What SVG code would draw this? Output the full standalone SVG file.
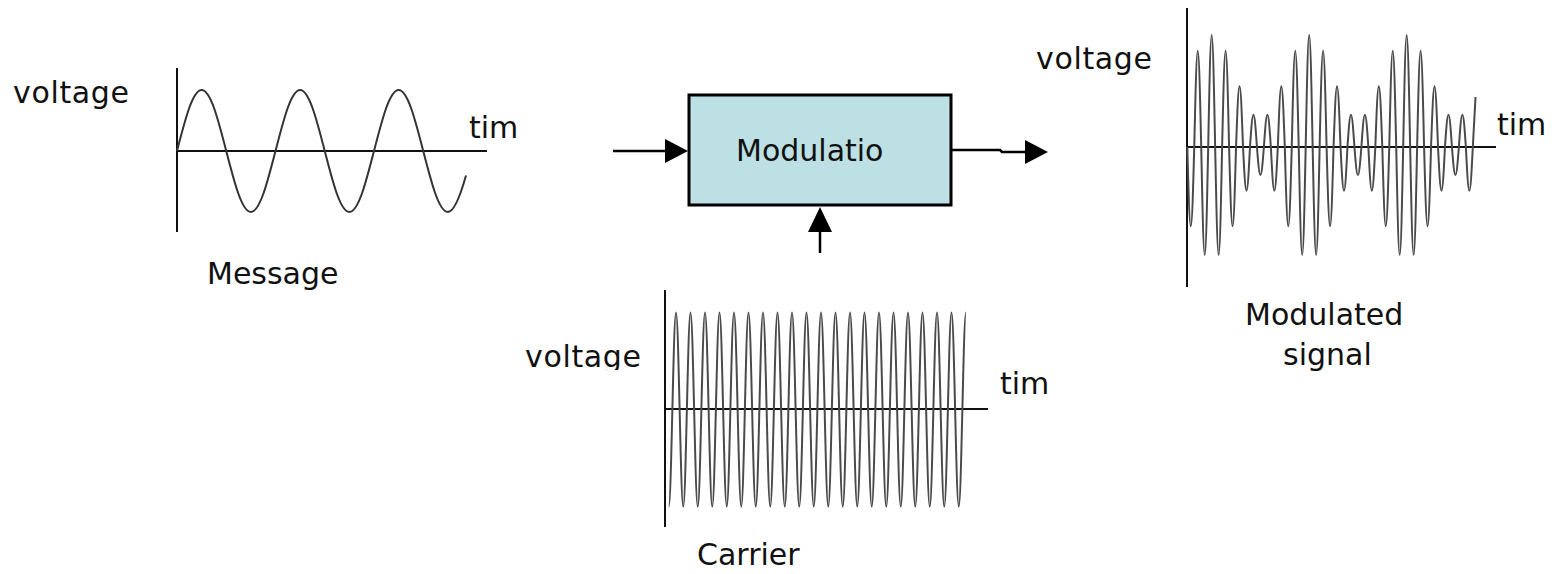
<svg xmlns="http://www.w3.org/2000/svg" width="1566" height="574" viewBox="0 0 1566 574">
<style>
text{font-family:"DejaVu Sans","Liberation Sans",sans-serif;font-size:30px;fill:#111}
.axis{stroke:#111;stroke-width:2;fill:none}
.wave{stroke:#333;stroke-width:2;fill:none}
.hf{stroke:#4a4a4a;stroke-width:2;fill:none}
.conn{stroke:#000;stroke-width:2.5;fill:none}
.head{fill:#000}
</style>
<defs>
<clipPath id="vclip"><rect x="500" y="330" width="160" height="40"/></clipPath>
</defs>
<rect width="1566" height="574" fill="#fff"/>

<g id="message">
<line class="axis" x1="177" y1="68" x2="177" y2="232"/>
<line class="axis" x1="177" y1="151" x2="487" y2="151"/>
<path class="wave" d="M177,151 C185.23,118.97 192.68,90 201.63,90 C210.58,90 218.02,118.97 226.25,151 C234.48,183.03 241.93,212 250.88,212 C259.83,212 267.27,183.03 275.5,151 C283.73,118.97 291.18,90 300.13,90 C309.08,90 316.52,118.97 324.75,151 C332.98,183.03 340.43,212 349.38,212 C358.33,212 365.77,183.03 374,151 C382.23,118.97 389.68,90 398.63,90 C407.58,90 415.02,118.97 423.25,151 C431.48,183.03 438.93,212 447.88,212 C453.92,212 459.96,197.1 466,175.6"/>
<text x="13" y="103" textLength="116">voltage</text>
<text x="469" y="138">tim</text>
<text x="207" y="284">Message</text>
</g>

<g id="modulator">
<rect x="689" y="95" width="262" height="110" fill="#bce0e3" stroke="#000" stroke-width="3"/>
<text x="736" y="161">Modulatio</text>
</g>

<g id="carrier">
<line class="axis" x1="665" y1="290" x2="665" y2="527"/>
<line class="axis" x1="665" y1="409" x2="988" y2="409"/>
<path class="hf" d="M668.75,506.5
c1.317,0 2.413,-46.07 3.625,-97 c1.212,-50.93 2.308,-97 3.625,-97 c1.317,0 2.413,46.07 3.625,97 c1.212,50.93 2.308,97 3.625,97
c1.317,0 2.413,-46.07 3.625,-97 c1.212,-50.93 2.308,-97 3.625,-97 c1.317,0 2.413,46.07 3.625,97 c1.212,50.93 2.308,97 3.625,97
c1.317,0 2.413,-46.07 3.625,-97 c1.212,-50.93 2.308,-97 3.625,-97 c1.317,0 2.413,46.07 3.625,97 c1.212,50.93 2.308,97 3.625,97
c1.317,0 2.413,-46.07 3.625,-97 c1.212,-50.93 2.308,-97 3.625,-97 c1.317,0 2.413,46.07 3.625,97 c1.212,50.93 2.308,97 3.625,97
c1.317,0 2.413,-46.07 3.625,-97 c1.212,-50.93 2.308,-97 3.625,-97 c1.317,0 2.413,46.07 3.625,97 c1.212,50.93 2.308,97 3.625,97
c1.317,0 2.413,-46.07 3.625,-97 c1.212,-50.93 2.308,-97 3.625,-97 c1.317,0 2.413,46.07 3.625,97 c1.212,50.93 2.308,97 3.625,97
c1.317,0 2.413,-46.07 3.625,-97 c1.212,-50.93 2.308,-97 3.625,-97 c1.317,0 2.413,46.07 3.625,97 c1.212,50.93 2.308,97 3.625,97
c1.317,0 2.413,-46.07 3.625,-97 c1.212,-50.93 2.308,-97 3.625,-97 c1.317,0 2.413,46.07 3.625,97 c1.212,50.93 2.308,97 3.625,97
c1.317,0 2.413,-46.07 3.625,-97 c1.212,-50.93 2.308,-97 3.625,-97 c1.317,0 2.413,46.07 3.625,97 c1.212,50.93 2.308,97 3.625,97
c1.317,0 2.413,-46.07 3.625,-97 c1.212,-50.93 2.308,-97 3.625,-97 c1.317,0 2.413,46.07 3.625,97 c1.212,50.93 2.308,97 3.625,97
c1.317,0 2.413,-46.07 3.625,-97 c1.212,-50.93 2.308,-97 3.625,-97 c1.317,0 2.413,46.07 3.625,97 c1.212,50.93 2.308,97 3.625,97
c1.317,0 2.413,-46.07 3.625,-97 c1.212,-50.93 2.308,-97 3.625,-97 c1.317,0 2.413,46.07 3.625,97 c1.212,50.93 2.308,97 3.625,97
c1.317,0 2.413,-46.07 3.625,-97 c1.212,-50.93 2.308,-97 3.625,-97 c1.317,0 2.413,46.07 3.625,97 c1.212,50.93 2.308,97 3.625,97
c1.317,0 2.413,-46.07 3.625,-97 c1.212,-50.93 2.308,-97 3.625,-97 c1.317,0 2.413,46.07 3.625,97 c1.212,50.93 2.308,97 3.625,97
c1.317,0 2.413,-46.07 3.625,-97 c1.212,-50.93 2.308,-97 3.625,-97 c1.317,0 2.413,46.07 3.625,97 c1.212,50.93 2.308,97 3.625,97
c1.317,0 2.413,-46.07 3.625,-97 c1.212,-50.93 2.308,-97 3.625,-97 c1.317,0 2.413,46.07 3.625,97 c1.212,50.93 2.308,97 3.625,97
c1.317,0 2.413,-46.07 3.625,-97 c1.212,-50.93 2.308,-97 3.625,-97 c1.317,0 2.413,46.07 3.625,97 c1.212,50.93 2.308,97 3.625,97
c1.317,0 2.413,-46.07 3.625,-97 c1.212,-50.93 2.308,-97 3.625,-97 c1.317,0 2.413,46.07 3.625,97 c1.212,50.93 2.308,97 3.625,97
c1.317,0 2.413,-46.07 3.625,-97 c1.212,-50.93 2.308,-97 3.625,-97 c1.317,0 2.413,46.07 3.625,97 c1.212,50.93 2.308,97 3.625,97
c1.317,0 2.413,-46.07 3.625,-97 c1.212,-50.93 2.308,-97 3.625,-97 c1.317,0 2.413,46.07 3.625,97 c1.212,50.93 2.308,97 3.625,97
c1.317,0 2.413,-46.07 3.625,-97 c1.212,-50.93 2.308,-97 3.625,-97"/>
<text x="525" y="367" textLength="116" clip-path="url(#vclip)">voltage</text>
<text x="1000" y="394">tim</text>
<text x="697" y="565">Carrier</text>
</g>

<g id="modulated">
<line class="axis" x1="1187" y1="8" x2="1187" y2="287"/>
<line class="axis" x1="1187" y1="147" x2="1496" y2="147"/>
<path class="hf" d="M1187.3,147 c1.164,41.67 2.217,79.35 3.482,79.35 c1.265,0 2.318,-37.68 3.482,-79.35 c1.164,-50.51 2.217,-96.19 3.482,-96.19 c1.265,0 2.318,45.68 3.482,96.19 c1.164,56.63 2.217,107.84 3.482,107.84 c1.265,0 2.318,-51.21 3.482,-107.84
c1.164,-58.81 2.217,-112 3.482,-112 c1.265,0 2.318,53.19 3.482,112 c1.164,56.63 2.217,107.84 3.482,107.84 c1.265,0 2.318,-51.21 3.482,-107.84 c1.164,-50.51 2.217,-96.19 3.482,-96.19 c1.265,0 2.318,45.68 3.482,96.19 c1.164,41.67 2.217,79.35 3.482,79.35 c1.265,0 2.318,-37.68 3.482,-79.35 c1.164,-31.85 2.217,-60.65 3.482,-60.65 c1.265,0 2.318,28.8 3.482,60.65 c1.164,23 2.217,43.81 3.482,43.81 c1.265,0 2.318,-20.81 3.482,-43.81 c1.164,-16.89 2.217,-32.16 3.482,-32.16 c1.265,0 2.318,15.27 3.482,32.16 c1.164,14.7 2.217,28 3.482,28 c1.265,0 2.318,-13.3 3.482,-28 c1.164,-16.89 2.217,-32.16 3.482,-32.16 c1.265,0 2.318,15.27 3.482,32.16 c1.164,23 2.217,43.81 3.482,43.81 c1.265,0 2.318,-20.81 3.482,-43.81 c1.164,-31.85 2.217,-60.65 3.482,-60.65 c1.265,0 2.318,28.8 3.482,60.65 c1.164,41.67 2.217,79.35 3.482,79.35 c1.265,0 2.318,-37.68 3.482,-79.35 c1.164,-50.51 2.217,-96.19 3.482,-96.19 c1.265,0 2.318,45.68 3.482,96.19 c1.164,56.63 2.217,107.84 3.482,107.84 c1.265,0 2.318,-51.21 3.482,-107.84
c1.164,-58.81 2.217,-112 3.482,-112 c1.265,0 2.318,53.19 3.482,112 c1.164,56.63 2.217,107.84 3.482,107.84 c1.265,0 2.318,-51.21 3.482,-107.84 c1.164,-50.51 2.217,-96.19 3.482,-96.19 c1.265,0 2.318,45.68 3.482,96.19 c1.164,41.67 2.217,79.35 3.482,79.35 c1.265,0 2.318,-37.68 3.482,-79.35 c1.164,-31.85 2.217,-60.65 3.482,-60.65 c1.265,0 2.318,28.8 3.482,60.65 c1.164,23 2.217,43.81 3.482,43.81 c1.265,0 2.318,-20.81 3.482,-43.81 c1.164,-16.89 2.217,-32.16 3.482,-32.16 c1.265,0 2.318,15.27 3.482,32.16 c1.164,14.7 2.217,28 3.482,28 c1.265,0 2.318,-13.3 3.482,-28 c1.164,-16.89 2.217,-32.16 3.482,-32.16 c1.265,0 2.318,15.27 3.482,32.16 c1.164,23 2.217,43.81 3.482,43.81 c1.265,0 2.318,-20.81 3.482,-43.81 c1.164,-31.85 2.217,-60.65 3.482,-60.65 c1.265,0 2.318,28.8 3.482,60.65 c1.164,41.67 2.217,79.35 3.482,79.35 c1.265,0 2.318,-37.68 3.482,-79.35 c1.164,-50.51 2.217,-96.19 3.482,-96.19 c1.265,0 2.318,45.68 3.482,96.19 c1.164,56.63 2.217,107.84 3.482,107.84 c1.265,0 2.318,-51.21 3.482,-107.84
c1.164,-58.81 2.217,-112 3.482,-112 c1.265,0 2.318,53.19 3.482,112 c1.164,56.63 2.217,107.84 3.482,107.84 c1.265,0 2.318,-51.21 3.482,-107.84 c1.164,-50.51 2.217,-96.19 3.482,-96.19 c1.265,0 2.318,45.68 3.482,96.19 c1.164,41.67 2.217,79.35 3.482,79.35 c1.265,0 2.318,-37.68 3.482,-79.35 c1.164,-31.85 2.217,-60.65 3.482,-60.65 c1.265,0 2.318,28.8 3.482,60.65 c1.164,23 2.217,43.81 3.482,43.81 c1.265,0 2.318,-20.81 3.482,-43.81 c1.164,-16.89 2.217,-32.16 3.482,-32.16 c1.265,0 2.318,15.27 3.482,32.16 c1.164,14.7 2.217,28 3.482,28 c1.265,0 2.318,-13.3 3.482,-28 c1.164,-16.89 2.217,-32.16 3.482,-32.16 c1.265,0 2.318,15.27 3.482,32.16 c1.164,23 2.217,43.81 3.482,43.81 c1.265,0 2.318,-20.81 3.482,-43.81
c1,-18 1.9,-38 2.7,-50"/>
<text x="1036" y="69" textLength="116">voltage</text>
<text x="1497" y="135">tim</text>
<text x="1245" y="325">Modulated</text>
<text x="1283" y="365">signal</text>
</g>

<g id="connectors">
<path class="conn" d="M613,151 H667"/>
<polygon class="head" points="688,151 665,139 665,163"/>
<path class="conn" d="M952,150 H1000 L1002,152 H1027"/>
<polygon class="head" points="1048,152 1025,140 1025,164"/>
<path class="conn" d="M820,253 V230"/>
<polygon class="head" points="820,207 808,232 832,232"/>
</g>
</svg>
